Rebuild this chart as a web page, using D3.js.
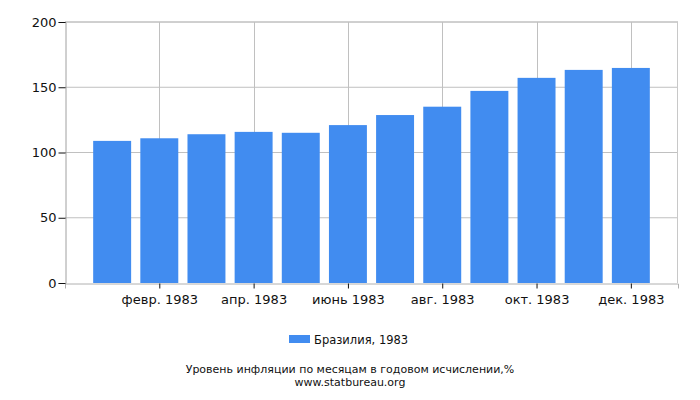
<!DOCTYPE html>
<html>
<head>
<meta charset="utf-8">
<script src="https://cdn.jsdelivr.net/npm/d3@7"></script>
<style>
  body { margin: 0; background: #fff; }
  text { font-family: "DejaVu Sans", sans-serif; fill: #111; }
</style>
</head>
<body>
<div id="chart"></div>
<script>
var months = ["янв. 1983", "февр. 1983", "март 1983", "апр. 1983", "май 1983", "июнь 1983",
              "июль 1983", "авг. 1983", "сент. 1983", "окт. 1983", "нояб. 1983", "дек. 1983"];
var values = [108.9, 110.9, 114.0, 115.8, 115.1, 121.0, 128.7, 135.1, 147.2, 157.2, 163.3, 164.8];
var yTicks = [0, 50, 100, 150, 200];
var seriesName = "Бразилия, 1983";
var caption = "Уровень инфляции по месяцам в годовом исчислении,%";
var source = "www.statbureau.org";

var width = 700, height = 400;
var margin = { top: 22, right: 22, bottom: 117, left: 65 };

var svg = d3.select("#chart")
    .append("svg")
    .attr("width", width)
    .attr("height", height);

var x = d3.scaleLinear()
    .domain([-1, 12])
    .range([margin.left, width - margin.right]);

var y = d3.scaleLinear()
    .domain([0, 200])
    .range([height - margin.bottom, margin.top]);

var step = x(1) - x(0);
var barW = step * 0.805;

// grid
svg.append("g").selectAll("line.h")
    .data(yTicks.slice(1))
    .enter().append("line")
    .attr("x1", x(-1)).attr("x2", x(12))
    .attr("y1", d => y(d)).attr("y2", d => y(d))
    .attr("stroke", d => d === 200 ? "#a0a0a0" : "#c0c0c0")
    .attr("stroke-width", 1);

var labelIdx = d3.range(1, 12, 2);
svg.append("g").selectAll("line.v")
    .data(labelIdx)
    .enter().append("line")
    .attr("x1", d => Math.round(x(d)) + 0.5).attr("x2", d => Math.round(x(d)) + 0.5)
    .attr("y1", y(200)).attr("y2", y(0))
    .attr("stroke", "#c0c0c0");

svg.append("line")
    .attr("x1", x(12) - 0.5).attr("x2", x(12) - 0.5)
    .attr("y1", y(200)).attr("y2", y(0))
    .attr("stroke", "#c8c8c8");

// bars
svg.append("g").selectAll("rect")
    .data(values)
    .enter().append("rect")
    .attr("x", (d, i) => x(i) - barW / 2)
    .attr("width", barW)
    .attr("y", d => y(d))
    .attr("height", d => y(0) - y(d))
    .attr("fill", "#418cf0");

// y axis
var yAxis = svg.append("g")
    .attr("transform", "translate(" + (margin.left + 0.5) + ",0)")
    .call(d3.axisLeft(y).tickValues(yTicks).tickSize(7).tickPadding(2).tickFormat(d3.format("d")));
yAxis.select(".domain").attr("stroke", "#a0a0a0");
yAxis.selectAll(".tick line").attr("stroke", "#111");
yAxis.selectAll("text").attr("font-size", 13).attr("font-family", "DejaVu Sans, sans-serif");

// x axis
var xAxis = svg.append("g")
    .attr("transform", "translate(0," + (y(0) + 0.5) + ")")
    .call(d3.axisBottom(x).tickValues(labelIdx).tickSize(5).tickPadding(6)
        .tickFormat(d => months[d]));
xAxis.select(".domain").attr("stroke", "#b0b0b0");
xAxis.selectAll(".tick line").attr("stroke", "#111");
xAxis.selectAll("text").attr("font-size", 13).attr("font-family", "DejaVu Sans, sans-serif");

// legend
svg.append("rect")
    .attr("x", 289).attr("y", 335)
    .attr("width", 21).attr("height", 8)
    .attr("fill", "#418cf0");
svg.append("text")
    .attr("x", 314).attr("y", 344)
    .attr("font-size", 11.5)
    .text(seriesName);

svg.append("text")
    .attr("x", 350).attr("y", 372.5)
    .attr("text-anchor", "middle")
    .attr("font-size", 11)
    .text(caption);
svg.append("text")
    .attr("x", 350).attr("y", 385.5)
    .attr("text-anchor", "middle")
    .attr("font-size", 11)
    .text(source);
</script>
</body>
</html>
